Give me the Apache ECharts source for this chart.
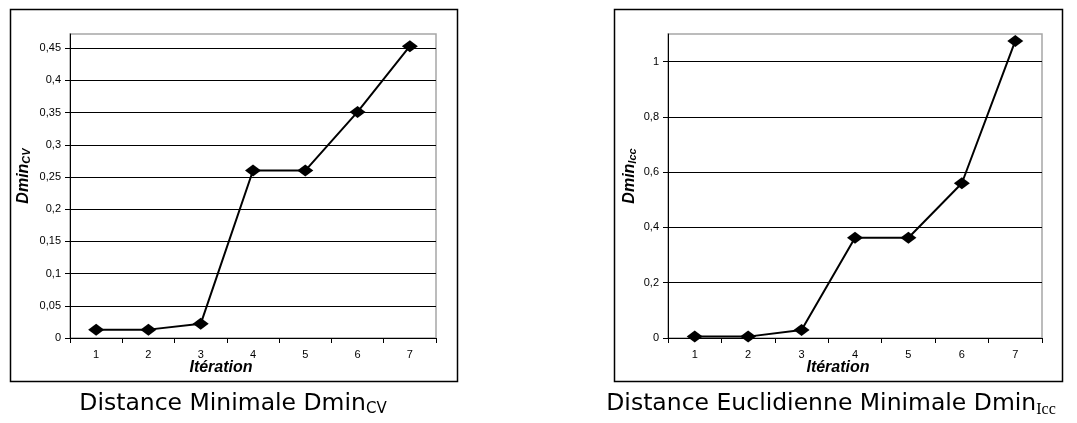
<!DOCTYPE html>
<html>
<head>
<meta charset="utf-8">
<script src="https://cdn.jsdelivr.net/npm/echarts@6/dist/echarts.min.js"></script>
<style>
html,body{margin:0;padding:0;background:#fff;}
#c{width:1077px;height:423px;}
</style>
</head>
<body>
<div id="c"></div>
<script>
const categories = ['1','2','3','4','5','6','7'];
const dminCV = [0.013, 0.013, 0.022, 0.260, 0.260, 0.351, 0.453];
const dminIcc = [0.005, 0.005, 0.029, 0.363, 0.363, 0.560, 1.075];
const leftCaption = 'Distance Minimale Dmin';
const leftSub = 'CV';
const rightCaption = 'Distance Euclidienne Minimale Dmin';
const rightSub = 'Icc';
const xName = 'Itération';

const chart = echarts.init(document.getElementById('c'), null, {renderer:'canvas'});

function fmt(step){
  return function(v){
    const k = Math.round(v/step);
    if (Math.abs(k*step - v) > 1e-9) return '';
    return String(+v.toFixed(2)).replace('.', ',');
  };
}

const axisFont = {fontFamily:'Liberation Sans', fontSize:11, color:'#000'};

function xAxis(gi){
  return {
    gridIndex: gi, type:'category', data: categories, boundaryGap:true,
    axisLine:{lineStyle:{color:'#000', width:1}},
    axisTick:{show:true, length:5, inside:false, lineStyle:{color:'#000'}},
    axisLabel:Object.assign({margin:11}, axisFont),
    splitLine:{show:false}
  };
}
function yAxis(gi, max, step){
  return {
    gridIndex: gi, type:'value', min:0, max:max, interval:step,
    axisLine:{show:true, lineStyle:{color:'#000', width:1}},
    axisTick:{show:true, length:5, lineStyle:{color:'#000'}},
    axisLabel:Object.assign({margin:9, formatter: fmt(step), showMaxLabel:false}, axisFont),
    splitLine:{show:true, showMaxLine:false, lineStyle:{color:'#000', width:1}}
  };
}
function series(gi, data){
  return {
    type:'line', xAxisIndex:gi, yAxisIndex:gi, data:data,
    symbol:'diamond', symbolSize:[16,12], showSymbol:true,
    lineStyle:{color:'#000', width:2},
    itemStyle:{color:'#000'},
    animation:false, z:5
  };
}

const capRich = {
  m:{fontFamily:'DejaVu Sans', fontSize:23.5, fill:'#000'},
  s:{fontFamily:'DejaVu Sans', fontSize:15, fill:'#000', padding:[11,0,0,0]},
  t:{fontFamily:'Liberation Serif', fontSize:16, fill:'#000', padding:[11,0,0,0]}
};
const nameRich = {
  m:{fontFamily:'Liberation Sans', fontSize:16, fontWeight:'bold', fontStyle:'italic', fill:'#000'},
  s:{fontFamily:'Liberation Sans', fontSize:11, fontWeight:'bold', fontStyle:'italic', fill:'#000', padding:[6,0,0,0]}
};

chart.setOption({
  animation:false,
  backgroundColor:'#fff',
  grid:[
    {left:70, top:34, width:366, height:304, show:true, borderColor:'#a6a6a6', borderWidth:1.5, backgroundColor:'transparent'},
    {left:668, top:34, width:374, height:304, show:true, borderColor:'#a6a6a6', borderWidth:1.5, backgroundColor:'transparent'}
  ],
  xAxis:[xAxis(0), xAxis(1)],
  yAxis:[yAxis(0, 0.472, 0.05), yAxis(1, 1.1, 0.2)],
  series:[series(0, dminCV), series(1, dminIcc)],
  graphic:[
    {type:'rect', shape:{x:10.5, y:9.5, width:447, height:372}, style:{fill:'none', stroke:'#000', lineWidth:1.5}, z:-1},
    {type:'rect', shape:{x:614.5, y:9.5, width:448, height:372}, style:{fill:'none', stroke:'#000', lineWidth:1.5}, z:-1},
    {type:'text', x:221, y:368, style:{text:xName, fontFamily:'Liberation Sans', fontSize:16, fontWeight:'bold', fontStyle:'italic', fill:'#000', align:'center', verticalAlign:'middle'}},
    {type:'text', x:838, y:368, style:{text:xName, fontFamily:'Liberation Sans', fontSize:16, fontWeight:'bold', fontStyle:'italic', fill:'#000', align:'center', verticalAlign:'middle'}},
    {type:'text', x:24, y:176, rotation:Math.PI/2, style:{text:'{m|Dmin}{s|' + leftSub + '}', rich:nameRich, align:'center', verticalAlign:'middle'}},
    {type:'text', x:630, y:176, rotation:Math.PI/2, style:{text:'{m|Dmin}{s|' + rightSub + '}', rich:nameRich, align:'center', verticalAlign:'middle'}},
    {type:'text', x:233, y:404, style:{text:'{m|' + leftCaption + '}{s|' + leftSub + '}', rich:capRich, align:'center', verticalAlign:'middle'}},
    {type:'text', x:831, y:404, style:{text:'{m|' + rightCaption + '}{t|' + rightSub + '}', rich:capRich, align:'center', verticalAlign:'middle'}}
  ]
});
</script>
</body>
</html>
